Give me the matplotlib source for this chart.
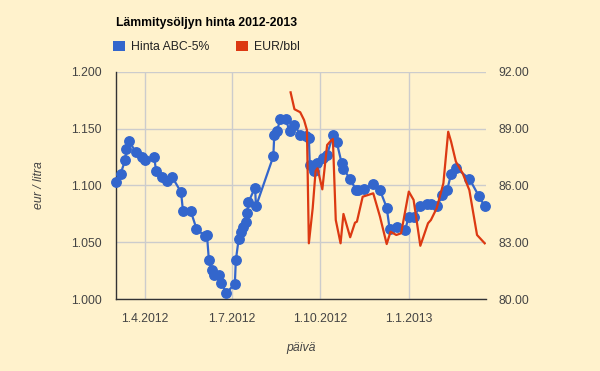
import matplotlib.pyplot as plt
from matplotlib.patches import Patch
import pandas as pd

# Hinta ABC-5% (eur / litra), vasen akseli
hinta_paivat = [
    "2012-03-02", "2012-03-07", "2012-03-12", "2012-03-13", "2012-03-16", "2012-03-23",
    "2012-03-29", "2012-04-01", "2012-04-11", "2012-04-13", "2012-04-19", "2012-04-24",
    "2012-04-30", "2012-05-09", "2012-05-11", "2012-05-19", "2012-05-25", "2012-06-03",
    "2012-06-05", "2012-06-07", "2012-06-10", "2012-06-12", "2012-06-18", "2012-06-20",
    "2012-06-25", "2012-07-04", "2012-07-05", "2012-07-08", "2012-07-10", "2012-07-12",
    "2012-07-16", "2012-07-17", "2012-07-18", "2012-07-25", "2012-07-26", "2012-08-13",
    "2012-08-14", "2012-08-17", "2012-08-20", "2012-08-26", "2012-08-30", "2012-09-04",
    "2012-09-10", "2012-09-16", "2012-09-19", "2012-09-20", "2012-09-24", "2012-09-27",
    "2012-10-04", "2012-10-08", "2012-10-14", "2012-10-18", "2012-10-23", "2012-10-25",
    "2012-11-01", "2012-11-07", "2012-11-09", "2012-11-15", "2012-11-25", "2012-12-02",
    "2012-12-09", "2012-12-12", "2012-12-20", "2012-12-28", "2013-01-01", "2013-01-06",
    "2013-01-13", "2013-01-20", "2013-01-24", "2013-01-30", "2013-02-05", "2013-02-10",
    "2013-02-14", "2013-02-19", "2013-03-05", "2013-03-15", "2013-03-21",
]
hinta = [
    1.103, 1.110, 1.1225, 1.132, 1.139, 1.129,
    1.125, 1.1225, 1.125, 1.113, 1.107, 1.104,
    1.107, 1.094, 1.0775, 1.0775, 1.062, 1.055,
    1.056, 1.034, 1.0255, 1.021, 1.021, 1.0145,
    1.005, 1.0135, 1.034, 1.053, 1.059, 1.063,
    1.0675, 1.076, 1.085, 1.098, 1.0815, 1.1255,
    1.144, 1.148, 1.158, 1.158, 1.1475, 1.153,
    1.1445, 1.1435, 1.1415, 1.118, 1.113, 1.120,
    1.124, 1.127, 1.144, 1.138, 1.120, 1.1145,
    1.1055, 1.0962, 1.0956, 1.0965, 1.101, 1.0958,
    1.0804, 1.062, 1.063, 1.0605, 1.0722, 1.0722,
    1.0816, 1.084, 1.084, 1.0816, 1.0912, 1.0962,
    1.110, 1.1152, 1.1059, 1.0904, 1.0816,
]

# EUR/bbl, oikea akseli
eur_paivat = [
    "2012-08-31", "2012-09-04", "2012-09-10", "2012-09-14", "2012-09-17", "2012-09-19",
    "2012-09-23", "2012-09-26", "2012-09-28", "2012-10-03", "2012-10-08", "2012-10-12",
    "2012-10-14", "2012-10-17", "2012-10-22", "2012-10-25", "2012-11-01", "2012-11-06",
    "2012-11-08", "2012-11-14", "2012-11-25", "2012-12-02", "2012-12-09", "2012-12-13",
    "2012-12-19", "2012-12-24", "2013-01-01", "2013-01-06", "2013-01-13", "2013-01-21",
    "2013-01-24", "2013-01-30", "2013-02-06", "2013-02-11", "2013-02-14", "2013-02-19",
    "2013-02-26", "2013-03-05", "2013-03-13", "2013-03-21",
]
eur_bbl = [
    90.91, 90.02, 89.86, 89.45, 88.92, 82.94,
    84.80, 86.75, 86.90, 85.79, 88.13, 88.36,
    88.45, 84.17, 82.94, 84.49, 83.26, 84.03,
    84.08, 85.40, 85.58, 84.35, 82.90, 83.55,
    83.38, 83.47, 85.67, 85.23, 82.81, 84.00,
    84.17, 84.79, 86.11, 88.83, 88.31, 87.25,
    86.64, 85.75, 83.38, 82.94,
]

x_tikit = ["2012-04-01", "2012-07-01", "2012-10-01", "2013-01-01"]
x_tikki_tekstit = ["1.4.2012", "1.7.2012", "1.10.2012", "1.1.2013"]
vasen_tikit = [1.000, 1.050, 1.100, 1.150, 1.200]
oikea_tikit = [80, 83, 86, 89, 92]

tausta = "#fff2cc"
sininen = "#3366cc"
punainen = "#dc3912"
teksti = "#444444"

plt.rcParams["font.family"] = ["Liberation Sans", "DejaVu Sans"]

fig = plt.figure(figsize=(6, 3.71), dpi=100, facecolor=tausta)
ax = fig.add_axes([115.7 / 600, 72 / 371, 370.3 / 600, 227.3 / 371])
ax.set_facecolor(tausta)

ax.plot(pd.to_datetime(hinta_paivat), hinta, color=sininen, lw=1.6,
        marker="o", ms=6.8, zorder=3, clip_on=False)
ax.set_ylim(1.0, 1.2)
ax.set_xlim(pd.Timestamp("2012-03-02"), pd.Timestamp("2013-03-22 08:00"))
ax.set_yticks(vasen_tikit)
ax.set_yticklabels([f"{v:.3f}" for v in vasen_tikit])
ax.set_xticks(pd.to_datetime(x_tikit))
ax.set_xticklabels(x_tikki_tekstit)
ax.grid(True, color="#cccccc", lw=1)
ax.set_axisbelow(True)
ax.tick_params(length=0, labelsize=8.8, colors=teksti)
ax.tick_params(axis="y", pad=10)
ax.tick_params(axis="x", pad=10)
for s in ["top", "right"]:
    ax.spines[s].set_visible(False)
for s in ["left", "bottom"]:
    ax.spines[s].set_color("#333333")
    ax.spines[s].set_linewidth(1)

ax2 = ax.twinx()
ax2.plot(pd.to_datetime(eur_paivat), eur_bbl, color=punainen, lw=1.6, zorder=4)
ax2.set_ylim(80, 92)
ax2.set_yticks(oikea_tikit)
ax2.set_yticklabels([f"{v:.2f}" for v in oikea_tikit])
ax2.tick_params(length=0, labelsize=8.8, colors=teksti, pad=9)
for s in ["top", "right", "left", "bottom"]:
    ax2.spines[s].set_visible(False)

ax.set_xlabel("päivä", fontsize=8.8, style="italic", color=teksti, labelpad=12)
ax.set_ylabel("eur / litra", fontsize=8.8, style="italic", color=teksti, labelpad=19)

fig.text(116 / 600, 1 - 23 / 371, "Lämmitysöljyn hinta 2012-2013", fontsize=8.8,
         fontweight="bold", color="black", va="center", ha="left")
kahvat = [Patch(facecolor=sininen, edgecolor="none"), Patch(facecolor=punainen, edgecolor="none")]
fig.legend(kahvat, ["Hinta ABC-5%", "EUR/bbl"], loc="center left",
           bbox_to_anchor=(113 / 600, 1 - 47 / 371), ncol=2, frameon=False,
           fontsize=8.8, handlelength=0.95, handleheight=0.95, handletextpad=0.5,
           columnspacing=2.2, borderaxespad=0, borderpad=0, labelcolor="#222222")

fig.savefig("out.png", dpi=100, facecolor=tausta)
